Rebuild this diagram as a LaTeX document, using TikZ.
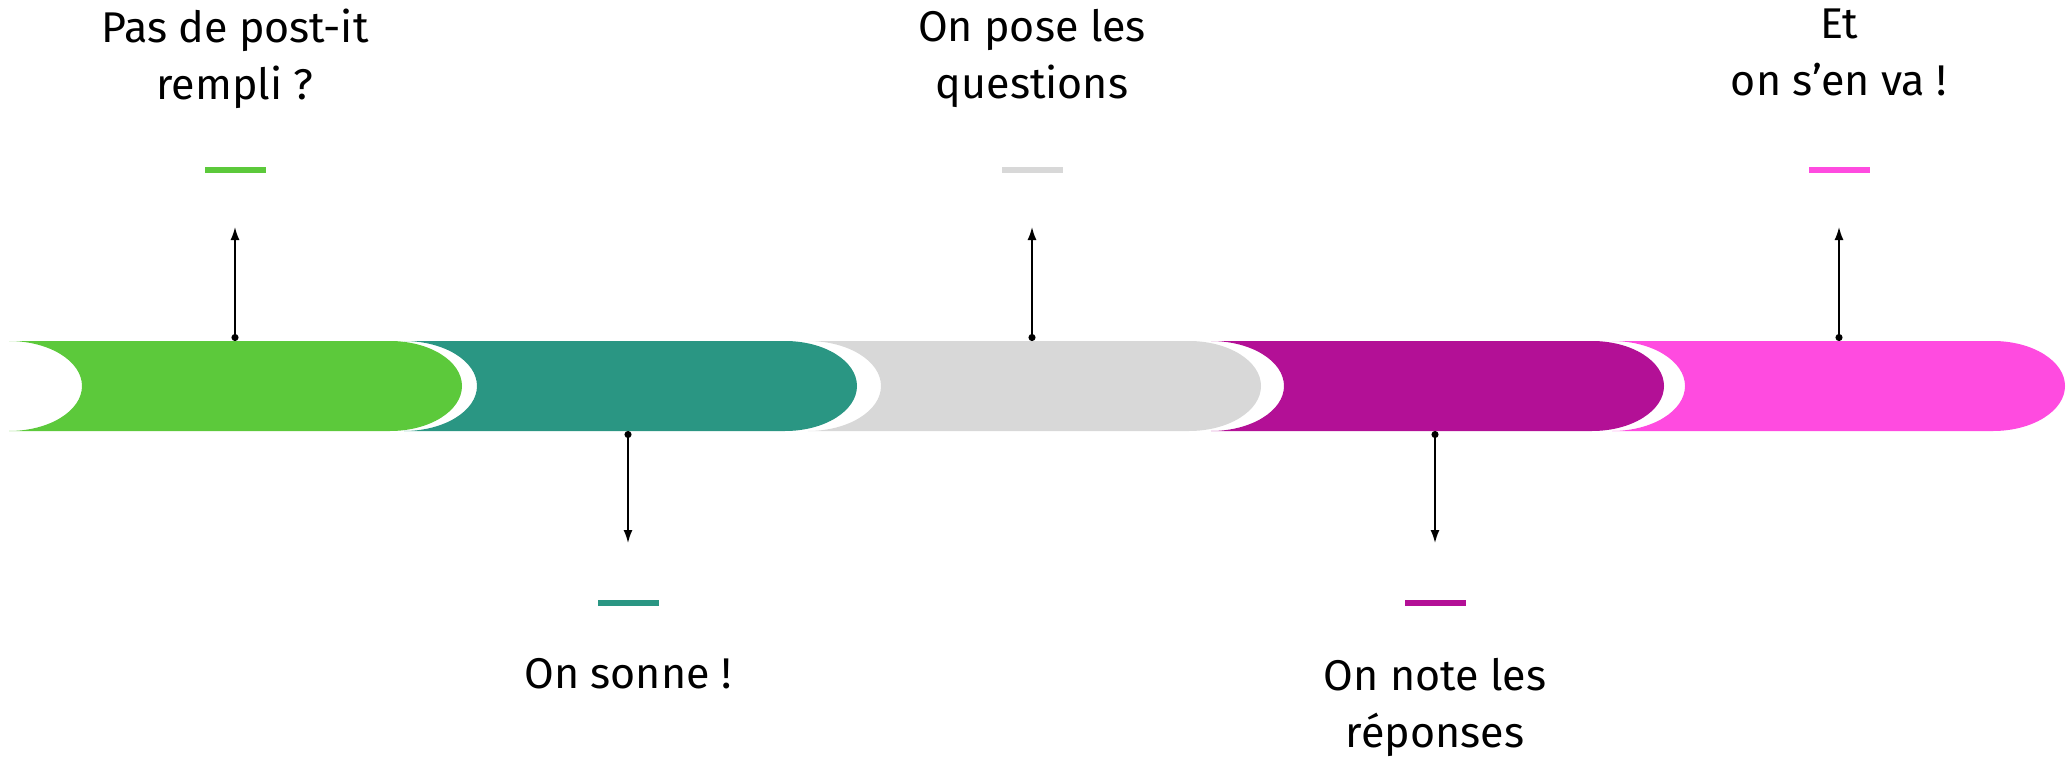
\documentclass[tikz,border=0pt]{standalone}
\usepackage{fontspec}
\setmainfont{Fira Sans}
\usetikzlibrary{arrows.meta}

\definecolor{vert}{RGB}{92,201,59}
\definecolor{sarcelle}{RGB}{42,150,131}
\definecolor{gris}{RGB}{216,216,216}
\definecolor{violet}{RGB}{179,16,150}
\definecolor{rose}{RGB}{255,75,224}

\tikzstyle{tiret} = [rectangle, minimum width=61pt, minimum height=6.5pt, inner sep=0pt]
\tikzstyle{fleche} = [line width=1.6pt, {Circle[length=7pt]}-{Latex[length=13pt,width=9pt]}]
\tikzstyle{etiquette} = [align=center, inner sep=0pt, font=\fontsize{43}{57}\selectfont]

\begin{document}
\begin{tikzpicture}[x=1pt,y=-1pt]
\useasboundingbox (0,0) rectangle (2069,757);
% la frise
\fill[vert] (9,341) arc[start angle=-90,end angle=90,x radius=73,y radius=45]
	-- (390,431) arc[start angle=90,end angle=-90,x radius=72,y radius=45] -- cycle;
\fill[sarcelle] (404,341) arc[start angle=-90,end angle=90,x radius=73,y radius=45]
	-- (785,431) arc[start angle=90,end angle=-90,x radius=72,y radius=45] -- cycle;
\fill[gris] (808,341) arc[start angle=-90,end angle=90,x radius=73,y radius=45]
	-- (1189,431) arc[start angle=90,end angle=-90,x radius=72,y radius=45] -- cycle;
\fill[violet] (1211,341) arc[start angle=-90,end angle=90,x radius=73,y radius=45]
	-- (1592,431) arc[start angle=90,end angle=-90,x radius=72,y radius=45] -- cycle;
\fill[rose] (1612,341) arc[start angle=-90,end angle=90,x radius=73,y radius=45]
	-- (1993,431) arc[start angle=90,end angle=-90,x radius=72,y radius=45] -- cycle;

% points de depart et pointes
\coordinate (p1) at (235,341);  \coordinate (h1) at (235,227);
\coordinate (p2) at (628,431);  \coordinate (h2) at (628,543);
\coordinate (p3) at (1032,341); \coordinate (h3) at (1032,227);
\coordinate (p4) at (1435,431); \coordinate (h4) at (1435,543);
\coordinate (p5) at (1839,341); \coordinate (h5) at (1839,227);
\draw[fleche] (p1) -- (h1);
\draw[fleche] (p2) -- (h2);
\draw[fleche] (p3) -- (h3);
\draw[fleche] (p4) -- (h4);
\draw[fleche] (p5) -- (h5);

% tirets
\node[tiret,fill=vert] (t1) at (235,170) {};
\node[tiret,fill=sarcelle] (t2) at (628,603) {};
\node[tiret,fill=gris] (t3) at (1032,170) {};
\node[tiret,fill=violet] (t4) at (1435,603) {};
\node[tiret,fill=rose] (t5) at (1839,170) {};

% textes
\node[etiquette,anchor=north] (e1) at (235,9) {Pas de post-it\\rempli ?};
\node[etiquette,anchor=north] (e2) at (628,658) {On sonne !};
\node[etiquette,anchor=north] (e3) at (1032,9) {On pose les\\questions};
\node[etiquette,anchor=north] (e4) at (1435,658) {On note les\\réponses};
\node[etiquette,anchor=north] (e5) at (1839,9) {Et\\on s’en va !};
\end{tikzpicture}
\end{document}
